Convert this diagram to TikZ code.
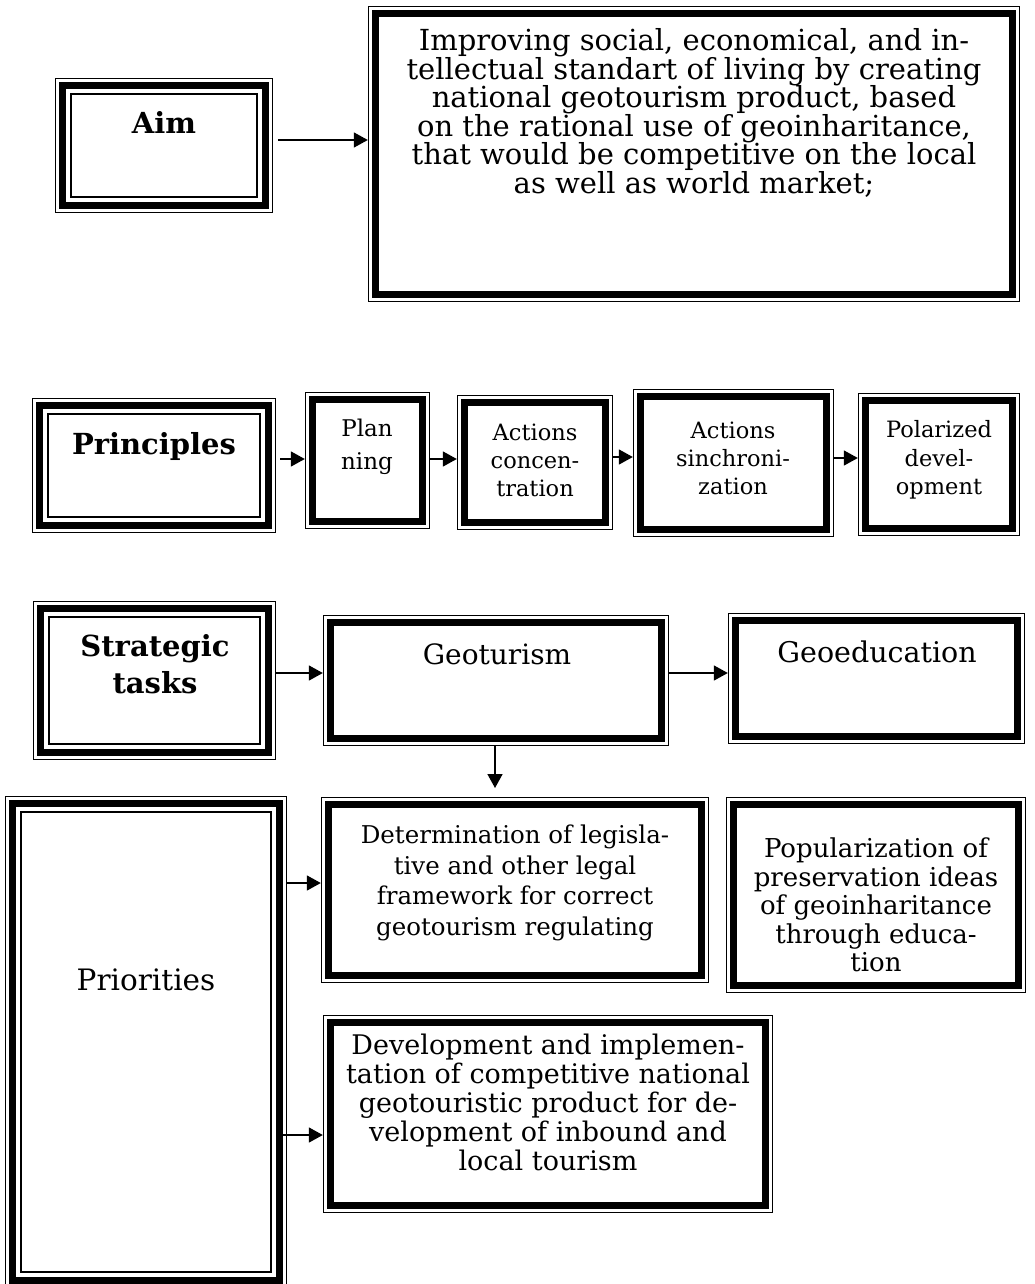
\documentclass[tikz,border=0pt]{standalone}
\usepackage{fontspec}
\setmainfont{DejaVu Serif}
\usetikzlibrary{arrows.meta,fit,calc}
\tikzset{
  frame/.style={draw=none,inner sep=0pt},
  conn/.style={-{Triangle[length=14pt,width=15pt]},line width=1.6pt},
  txt/.style={align=center,inner sep=0pt},
  boldtxt/.style={txt,font=\bfseries\fontsize{29}{37}\selectfont},
}
% rectangle drawn inside a node at a given inset with a given line width
\newcommand\insetrect[3]{\draw[line width=#3] ([xshift=#2,yshift=-#2]#1.north west) rectangle ([xshift=-#2,yshift=#2]#1.south east);}
% triple border box: name, x1, y1, x2, y2
\newcommand\tribox[5]{%
  \coordinate (#1-a) at (#2,#3); \coordinate (#1-b) at (#4,#5);
  \node[frame,fit=(#1-a)(#1-b)] (#1) {};
  \insetrect{#1}{0.75pt}{1.5pt}\insetrect{#1}{8pt}{7pt}\insetrect{#1}{16.2pt}{2.5pt}}
% thin-thick border box
\newcommand\ttbox[5]{%
  \coordinate (#1-a) at (#2,#3); \coordinate (#1-b) at (#4,#5);
  \node[frame,fit=(#1-a)(#1-b)] (#1) {};
  \insetrect{#1}{0.75pt}{1.5pt}\insetrect{#1}{7.8pt}{7pt}}
\begin{document}
\begin{tikzpicture}[x=1pt,y=-1pt]
\useasboundingbox[fill=white] (0,0) rectangle (1035,1284);

% ---- row 1: aim
\tribox{aim}{55}{78}{273}{213}
\node[boldtxt] (aimL) at (164,122) {Aim};
\ttbox{aimbox}{368}{6}{1020}{302}
\node[txt,font=\fontsize{29}{28.6}\selectfont] (aimT) at (694,113) {Improving social, economical, and in-\\tellectual standart of living by creating\\national geotourism product, based\\on the rational use of geoinharitance,\\that would be competitive on the local\\as well as world market;};

% ---- row 2: principles
\tribox{prin}{32}{398}{276}{533}
\node[boldtxt] (prinL) at (154,446) {Principles};
\ttbox{plan}{305}{392}{430}{529}
\node[txt,font=\fontsize{23}{33}\selectfont] (planT) at (367,447) {Plan\\ning};
\ttbox{conc}{457}{395}{613}{530}
\node[txt,font=\fontsize{22.5}{28}\selectfont] (concT) at (535,460) {Actions\\concen-\\tration};
\ttbox{sync}{633}{389}{834}{537}
\node[txt,font=\fontsize{22.5}{28}\selectfont] (syncT) at (733,458) {Actions\\sinchroni-\\zation};
\ttbox{pol}{858}{393}{1020}{536}
\node[txt,font=\fontsize{22.5}{28.5}\selectfont] (polT) at (939,460) {Polarized\\devel-\\opment};

% ---- row 3: strategic tasks
\tribox{strat}{33}{601}{276}{760}
\node[boldtxt] (stratL) at (155,664) {Strategic\\tasks};
\ttbox{geo}{323}{615}{669}{746}
\node[txt,font=\fontsize{28}{32}\selectfont] (geoT) at (497,654) {Geoturism};
\ttbox{geoedu}{728}{613}{1025}{744}
\node[txt,font=\fontsize{28.5}{32}\selectfont] (geoeduT) at (877,652) {Geoeducation};
\coordinate (geodown) at (495,788);

% ---- priorities
\tribox{prio}{5}{796}{287}{1288}
\node[txt,font=\fontsize{29.5}{32}\selectfont] (prioT) at (146,980) {Priorities};
\ttbox{det}{321}{797}{709}{983}
\node[txt,font=\fontsize{24.5}{30.5}\selectfont] (detT) at (515,883) {Determination of legisla-\\tive and other legal\\framework for correct\\geotourism regulating};
\ttbox{pop}{726}{797}{1026}{993}
\node[txt,font=\fontsize{26}{28.5}\selectfont] (popT) at (876,905) {Popularization of\\preservation ideas\\of geoinharitance\\through educa-\\tion};
\ttbox{dev}{323}{1015}{773}{1213}
\node[txt,font=\fontsize{27}{29}\selectfont] (devT) at (548,1102) {Development and implemen-\\tation of competitive national\\geotouristic product for de-\\velopment of inbound and\\local tourism};

% ---- connectors
\draw[conn] ([xshift=5pt]aim.east |- 0,140) -- (aimbox.west |- 0,140);
\draw[conn] ([xshift=4pt]prin.east |- 0,459) -- (plan.west |- 0,459);
\draw[conn] (plan.east |- 0,459) -- (conc.west |- 0,459);
\draw[conn] (conc.east |- 0,457) -- (sync.west |- 0,457);
\draw[conn] (sync.east |- 0,458) -- (pol.west |- 0,458);
\draw[conn] (strat.east |- 0,673) -- (geo.west |- 0,673);
\draw[conn] (geo.east |- 0,673) -- (geoedu.west |- 0,673);
\draw[conn] (geo.south -| geodown) -- (geodown);
\draw[conn] (prio.east |- 0,883) -- (det.west |- 0,883);
\draw[conn] ([xshift=-5pt]prio.east |- 0,1135) -- (dev.west |- 0,1135);
\end{tikzpicture}
\end{document}
